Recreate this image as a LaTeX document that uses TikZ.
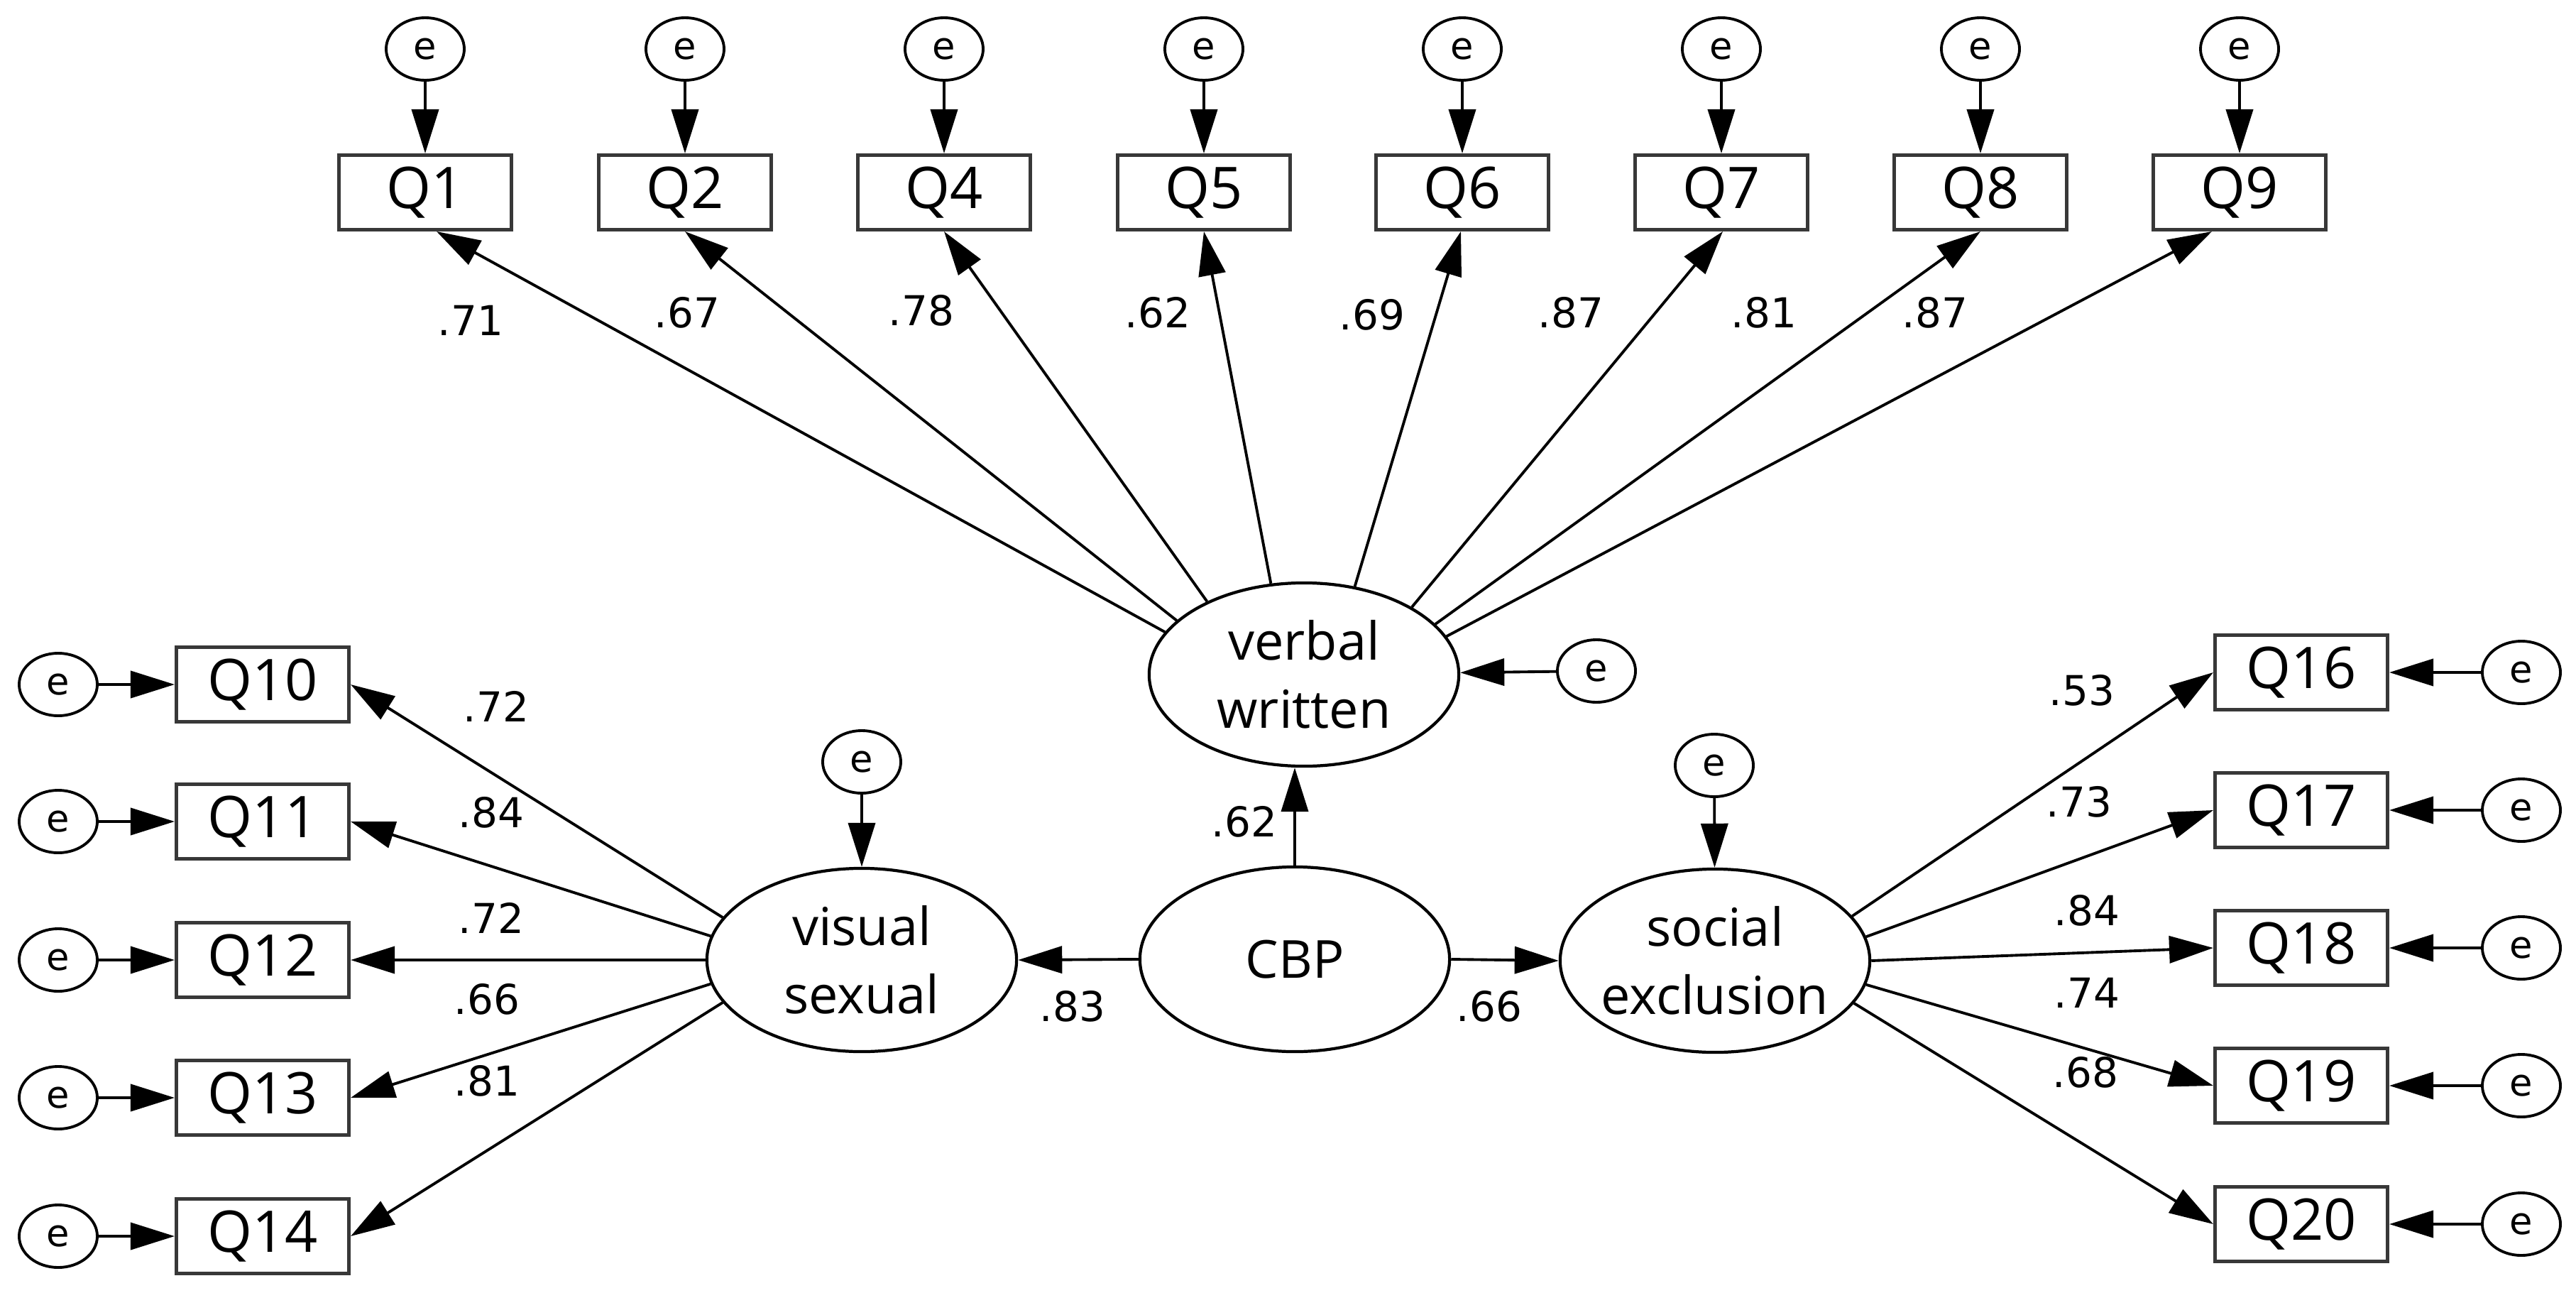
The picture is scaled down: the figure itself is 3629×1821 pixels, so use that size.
\documentclass[tikz,border=0pt]{standalone}
\usepackage{fontspec}
\newfontfamily\qfont{Open Sans}
\newfontfamily\nfont{DejaVu Sans}
\usetikzlibrary{arrows.meta,shapes.geometric}
\begin{document}
\begin{tikzpicture}[x=0.01cm,y=-0.01cm,
  obs/.style={draw=black!78, line width=1.4pt, minimum width=2.43cm, minimum height=1.05cm, inner sep=0pt, font=\qfont\fontsize{23}{27}\selectfont},
  lat/.style={draw, ellipse, line width=1.2pt, minimum width=4.36cm, minimum height=2.58cm, inner sep=0pt},
  lattext/.style={align=center, font=\qfont\fontsize{21}{27.3}\selectfont, inner sep=0pt},
  err/.style={draw, ellipse, line width=1.1pt, minimum width=1.1cm, minimum height=0.88cm, inner sep=0pt, font=\nfont\fontsize{15}{18}\selectfont},
  arr/.style={line width=1.1pt, -{Triangle[length=0.62cm,width=0.38cm]}},
  coef/.style={font=\nfont\fontsize{16.5}{19}\selectfont, inner sep=0pt}]
\useasboundingbox (0,0) rectangle (3629,1821);

% top indicators
\foreach \n/\x in {1/599,2/965,4/1330,5/1696,6/2060,7/2425,8/2790,9/3155} {
  \node[obs] (Q\n) at (\x,271) {Q\n};
  \node[err] (eQ\n) at (\x,69) {e};
  \draw[arr] (eQ\n) -- (Q\n);
}
% left indicators
\foreach \n/\y in {10/964,11/1157,12/1352,13/1546,14/1741} {
  \node[obs] (Q\n) at (370,\y) {Q\n};
  \node[err] (eQ\n) at (82,\y) {e};
  \draw[arr] (eQ\n) -- (Q\n);
}
% right indicators
\foreach \n/\y in {16/947,17/1141,18/1335,19/1529,20/1724} {
  \node[obs] (Q\n) at (3242,\y) {Q\n};
  \node[err] (eQ\n) at (3552,\y) {e};
  \draw[arr] (eQ\n) -- (Q\n);
}

% latent variables
\node[lat] (vw) at (1837,950) {};
\node[lattext] (vwt) at (vw.center) {verbal\\written};
\node[lat, minimum height=2.6cm] (cbp) at (1824,1351) {};
\node[lattext] (cbpt) at (cbp.center) {CBP};
\node[lat] (vis) at (1214,1352) {};
\node[lattext] (vist) at (vis.center) {visual\\sexual};
\node[lat] (soc) at (2416,1353) {};
\node[lattext] (soct) at (soc.center) {social\\exclusion};

% disturbances
\node[err] (evw) at (2249,945) {e};
\node[err] (evis) at (1214,1073) {e};
\node[err] (esoc) at (2415,1078) {e};
\draw[arr] (evw) -- (vw);
\draw[arr] (evis) -- (vis);
\draw[arr] (esoc) -- (soc);

% loadings verbal written
\foreach \q/\a/\s in {1/163.2/16, 2/157.1/0, 4/143.9/0, 5/110.6/0, 6/60.1/-2, 7/32.6/2, 8/21.0/0, 9/15.8/-39}
  \draw[arr] (vw.\a) -- ([xshift=\s*0.01cm]Q\q.south);
% loadings visual sexual
\foreach \q/\a in {10/163.5,11/171.2,12/180,13/189.2,14/197.5}
  \draw[arr] (vis.\a) -- (Q\q.east);
% loadings social exclusion
\foreach \q/\a in {16/18.8,17/9.8,18/0,19/351.8,20/343.9}
  \draw[arr] (soc.\a) -- (Q\q.west);

% structural paths
\draw[arr] (cbp.north) -- (cbp.north |- vw.south);
\draw[arr] (cbp.west) -- (vis.east);
\draw[arr] (cbp.east) -- (soc.west);

% coefficients
\node[coef] (c1) at (663,451) {.71};
\node[coef] (c2) at (968,440) {.67};
\node[coef] (c4) at (1298,437) {.78};
\node[coef] (c5) at (1631,440) {.62};
\node[coef] (c6) at (1933,443) {.69};
\node[coef] (c7) at (2213,440) {.87};
\node[coef] (c8) at (2485,440) {.81};
\node[coef] (c9) at (2726,440) {.87};
\node[coef] (cvw) at (1753,1157) {.62};
\node[coef] (csoc) at (2098,1417) {.66};
\node[coef] (cvis) at (1511,1417) {.83};
\node[coef] (c10) at (699,995) {.72};
\node[coef] (c11) at (692,1144) {.84};
\node[coef] (c12) at (692,1293) {.72};
\node[coef] (c13) at (686,1407) {.66};
\node[coef] (c14) at (686,1522) {.81};
\node[coef] (c16) at (2933,972) {.53};
\node[coef] (c17) at (2929,1129) {.73};
\node[coef] (c18) at (2940,1282) {.84};
\node[coef] (c19) at (2940,1398) {.74};
\node[coef] (c20) at (2938,1510) {.68};
\end{tikzpicture}
\end{document}
